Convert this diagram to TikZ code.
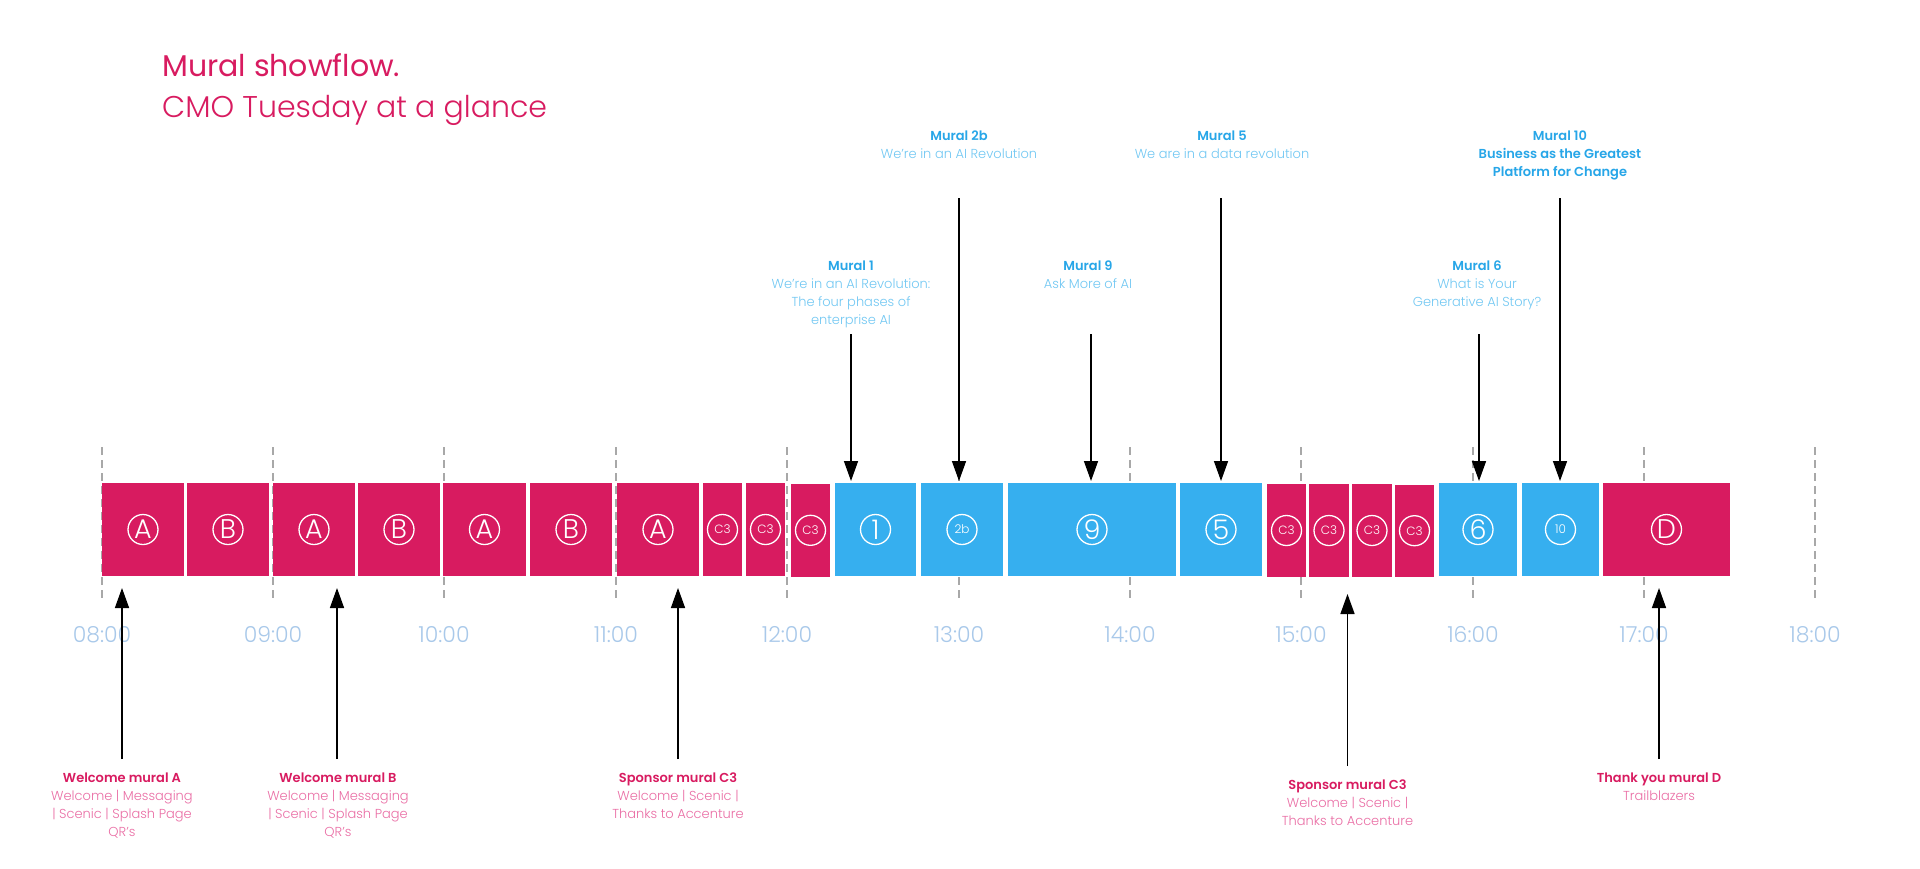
\documentclass[tikz,border=0pt]{standalone}
\usepackage{fontspec}
\usetikzlibrary{arrows.meta}
\setmainfont{Poppins}
\IfFontExistsTF{Poppins Light}{\newfontfamily\lightfont{Poppins Light}}{\newfontfamily\lightfont{Poppins}}
\IfFontExistsTF{Poppins SemiBold}{\newfontfamily\semifont{Poppins SemiBold}}{\IfFontExistsTF{Poppins Medium}{\newfontfamily\semifont{Poppins Medium}}{\newfontfamily\semifont{Poppins}}}
\definecolor{muralpink}{HTML}{D81B60}
\definecolor{muralblue}{HTML}{36AFEF}
\definecolor{headblue}{HTML}{27A6E8}
\definecolor{subblue}{HTML}{72C8F3}
\definecolor{headpink}{HTML}{D81B60}
\definecolor{subpink}{HTML}{EA6EA5}
\definecolor{timeblue}{HTML}{A9C9EA}
\definecolor{gridgray}{HTML}{A8A8A8}
\tikzset{
  pinkbox/.style={rectangle, fill=muralpink, minimum height=92.4pt, inner sep=0pt},
  bluebox/.style={rectangle, fill=muralblue, minimum height=92.4pt, inner sep=0pt},
  icon/.style={circle, draw=white, line width=1.3pt, minimum size=30pt, inner sep=0pt,
    text=white, font=\lightfont\fontsize{27}{27}\selectfont},
  smallicon/.style={icon, font=\lightfont\fontsize{12}{12}\selectfont},
  hour/.style={draw=gridgray, line width=1.3pt, dash pattern=on 8pt off 5pt},
  time/.style={anchor=base, inner sep=0pt, text=timeblue, font=\lightfont\fontsize{22}{22}\selectfont},
  bluelab/.style={anchor=base, inner sep=0pt, align=center, text=subblue,
    font=\lightfont\fontsize{13}{18}\selectfont},
  pinklab/.style={bluelab, text=subpink},
  arr/.style={line width=1.5pt, -{Triangle[width=14pt,length=20pt]}}
}
\begin{document}
\begin{tikzpicture}[x=1pt,y=-1pt]
  \fill[white] (0,0) rectangle (1920,868);
  \node[anchor=base west, inner sep=0pt, text=muralpink, font=\fontsize{30}{30}\selectfont] (title) at (162,76) {Mural showflow.};
  \node[anchor=base west, inner sep=0pt, text=muralpink, font=\lightfont\fontsize{30}{30}\selectfont] (subtitle) at (162,117) {CMO Tuesday at a glance};
  \node[time] (t08) at (102,642) {08:00};
  \node[time] (t09) at (273,642) {09:00};
  \node[time] (t10) at (444,642) {10:00};
  \node[time] (t11) at (616,642) {11:00};
  \node[time] (t12) at (787,642) {12:00};
  \node[time] (t13) at (959,642) {13:00};
  \node[time] (t14) at (1130,642) {14:00};
  \node[time] (t15) at (1301,642) {15:00};
  \node[time] (t16) at (1473,642) {16:00};
  \node[time] (t17) at (1644,642) {17:00};
  \node[time] (t18) at (1815,642) {18:00};
  \draw[hour] (t08 |- 0,447) -- (t08 |- 0,598);
  \draw[hour] (t09 |- 0,447) -- (t09 |- 0,598);
  \draw[hour] (t10 |- 0,447) -- (t10 |- 0,598);
  \draw[hour] (t11 |- 0,447) -- (t11 |- 0,598);
  \draw[hour] (t12 |- 0,447) -- (t12 |- 0,598);
  \draw[hour] (t13 |- 0,447) -- (t13 |- 0,598);
  \draw[hour] (t14 |- 0,447) -- (t14 |- 0,598);
  \draw[hour] (t15 |- 0,447) -- (t15 |- 0,598);
  \draw[hour] (t16 |- 0,447) -- (t16 |- 0,598);
  \draw[hour] (t17 |- 0,447) -- (t17 |- 0,598);
  \draw[hour] (t18 |- 0,447) -- (t18 |- 0,600);
  % blocks
  \node[pinkbox, minimum width=82pt] (b1) at (143,529.5) {};
  \node[pinkbox, minimum width=82pt] (b2) at (228,529.5) {};
  \node[pinkbox, minimum width=82pt] (b3) at (314,529.5) {};
  \node[pinkbox, minimum width=82pt] (b4) at (399,529.5) {};
  \node[pinkbox, minimum width=83pt] (b5) at (484.5,529.5) {};
  \node[pinkbox, minimum width=82pt] (b6) at (571,529.5) {};
  \node[pinkbox, minimum width=82pt] (b7) at (658,529.5) {};
  \node[pinkbox, minimum width=39pt] (b8) at (722.5,529.5) {};
  \node[pinkbox, minimum width=39pt] (b9) at (765.5,529.5) {};
  \node[pinkbox, minimum width=39pt] (b10) at (810.5,530.3) {};
  \node[bluebox, minimum width=81pt] (b11) at (875.5,529.5) {};
  \node[bluebox, minimum width=82pt] (b12) at (962,529.5) {};
  \node[bluebox, minimum width=168pt] (b13) at (1092,529.5) {};
  \node[bluebox, minimum width=82pt] (b14) at (1221,529.5) {};
  \node[pinkbox, minimum width=39pt] (b15) at (1286.5,530.5) {};
  \node[pinkbox, minimum width=40pt] (b16) at (1329,530.5) {};
  \node[pinkbox, minimum width=40pt] (b17) at (1372,530.5) {};
  \node[pinkbox, minimum width=39pt] (b18) at (1414.5,530.7) {};
  \node[bluebox, minimum width=78pt] (b19) at (1478,529.5) {};
  \node[bluebox, minimum width=77pt] (b20) at (1560.5,529.5) {};
  \node[pinkbox, minimum width=127pt] (b21) at (1666.5,529.5) {};
  % circled marks
  \node[icon] (i1) at (b1) {A};
  \node[icon] (i2) at (b2) {B};
  \node[icon] (i3) at (b3) {A};
  \node[icon] (i4) at (b4) {B};
  \node[icon] (i5) at (b5) {A};
  \node[icon] (i6) at (b6) {B};
  \node[icon] (i7) at (b7) {A};
  \node[smallicon] (i8) at (b8) {C3};
  \node[smallicon] (i9) at (b9) {C3};
  \node[smallicon] (i10) at (b10) {C3};
  \node[icon] (i11) at (b11) {1};
  \node[smallicon] (i12) at (b12) {2b};
  \node[icon] (i13) at (b13) {9};
  \node[icon] (i14) at (b14) {5};
  \node[smallicon] (i15) at (b15) {C3};
  \node[smallicon] (i16) at (b16) {C3};
  \node[smallicon] (i17) at (b17) {C3};
  \node[smallicon] (i18) at (b18) {C3};
  \node[icon] (i19) at (b19) {6};
  \node[smallicon] (i20) at (b20) {10};
  \node[icon] (i21) at (b21) {D};
  % labels above (placed at the baseline of their last line)
  \node[bluelab] (m2b) at (959,158) {{\semifont\color{headblue}Mural 2b}\\We’re in an AI Revolution};
  \node[bluelab] (m5) at (1222,158) {{\semifont\color{headblue}Mural 5}\\We are in a data revolution};
  \node[bluelab] (m10) at (1560,176) {{\semifont\color{headblue}Mural 10}\\{\semifont\color{headblue}Business as the Greatest}\\{\semifont\color{headblue}Platform for Change}};
  \node[bluelab] (m1) at (851,324) {{\semifont\color{headblue}Mural 1}\\We’re in an AI Revolution:\\The four phases of\\enterprise AI};
  \node[bluelab] (m9) at (1088,288) {{\semifont\color{headblue}Mural 9}\\Ask More of AI};
  \node[bluelab] (m6) at (1477,306) {{\semifont\color{headblue}Mural 6}\\What is Your\\Generative AI Story?};
  % labels below
  \node[pinklab] (wa) at (122,836) {{\semifont\color{headpink}Welcome mural A}\\Welcome | Messaging\\| Scenic | Splash Page\\QR’s};
  \node[pinklab] (wb) at (338,836) {{\semifont\color{headpink}Welcome mural B}\\Welcome | Messaging\\| Scenic | Splash Page\\QR’s};
  \node[pinklab] (sc1) at (678,818) {{\semifont\color{headpink}Sponsor mural C3}\\Welcome | Scenic |\\Thanks to Accenture};
  \node[pinklab] (sc2) at (1347.5,825) {{\semifont\color{headpink}Sponsor mural C3}\\Welcome | Scenic |\\Thanks to Accenture};
  \node[pinklab] (td) at (1659,800) {{\semifont\color{headpink}Thank you mural D}\\Trailblazers};
  % arrows
  \coordinate (m2bs) at (959,198);
  \coordinate (m2be) at (959,481);
  \coordinate (m5s) at (1221,198);
  \coordinate (m5e) at (1221,481);
  \coordinate (m10s) at (1560,198);
  \coordinate (m10e) at (1560,481);
  \coordinate (m1s) at (851,334);
  \coordinate (m1e) at (851,481);
  \coordinate (m9s) at (1091,334);
  \coordinate (m9e) at (1091,481);
  \coordinate (m6s) at (1479,334);
  \coordinate (m6e) at (1479,481);
  \coordinate (was) at (122,759);
  \coordinate (wae) at (122,588);
  \coordinate (wbs) at (337,759);
  \coordinate (wbe) at (337,588);
  \coordinate (sc1s) at (678,759);
  \coordinate (sc1e) at (678,588);
  \coordinate (sc2s) at (1347.5,766);
  \coordinate (sc2e) at (1347.5,594);
  \coordinate (tds) at (1659,759);
  \coordinate (tde) at (1659,588);
  \begin{scope}[arr]
    \draw (m2bs) to (m2be);
    \draw (m5s) to (m5e);
    \draw (m10s) to (m10e);
    \draw (m1s) to (m1e);
    \draw (m9s) to (m9e);
    \draw (m6s) to (m6e);
    \draw (was) to (wae);
    \draw (wbs) to (wbe);
    \draw (sc1s) to (sc1e);
    \draw (sc2s) to (sc2e);
    \draw (tds) to (tde);
  \end{scope}
\end{tikzpicture}
\end{document}
